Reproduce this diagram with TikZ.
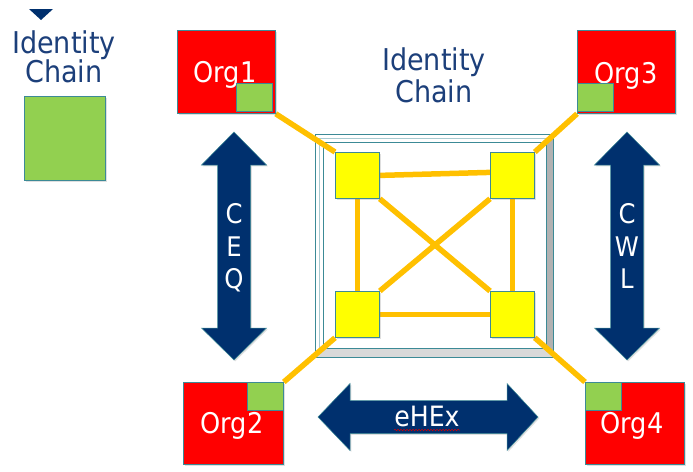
\documentclass[tikz,border=0pt]{standalone}
\usepackage{fontspec}
\setmainfont{DejaVu Sans Condensed}
\usetikzlibrary{shadows,decorations.pathmorphing}
\definecolor{navy}{HTML}{00306E}
\definecolor{inkblue}{HTML}{1C3F7A}
\definecolor{edge}{HTML}{3C8A96}
\definecolor{linkorange}{HTML}{FFC000}
\definecolor{chaingreen}{HTML}{92D050}
\definecolor{orgred}{HTML}{FF0000}
\definecolor{peeryellow}{HTML}{FFFF00}
\pgfdeclarelayer{bg}
\pgfsetlayers{bg,main}
\begin{document}
\begin{tikzpicture}[x=1pt,y=-1pt,
  softshadow/.style={drop shadow={shadow xshift=1.3pt,shadow yshift=-1.3pt,opacity=0.25}},
  boxbase/.style={draw=edge,line width=0.8pt,inner sep=0pt,anchor=north west},
  orgbox/.style={boxbase,fill=orgred,softshadow,minimum width=98pt,minimum height=83pt},
  idbox/.style={boxbase,fill=chaingreen,minimum width=36pt,minimum height=28pt},
  peerbox/.style={boxbase,fill=peeryellow,softshadow,minimum width=44pt,minimum height=46pt},
  orglabel/.style={text=white,font=\fontsize{28.5}{30}\selectfont,anchor=base,inner sep=0pt},
  titletext/.style={text=inkblue,font=\fontsize{30}{32}\selectfont,anchor=base,inner sep=0pt},
  arrowtext/.style={text=white,font=\fontsize{27}{29}\selectfont,anchor=base,inner sep=0pt},
  bigarrow/.style={fill=navy,draw=edge,line width=0.5pt,softshadow},
  link/.style={draw=linkorange,line width=5.5pt}
]
\useasboundingbox (0,0) rectangle (693,471);

% legend
\fill[navy] (29,9) -- (53,9) -- (41,20) -- cycle;
\node[titletext] (legid) at (64,53) {Identity};
\node[titletext] (legch) at (64,82) {Chain};
\node[boxbase,fill=chaingreen,softshadow,minimum width=81pt,minimum height=84pt] (legbox) at (24,96) {};

% title above the exchange
\node[titletext] (tid) at (434,70) {Identity};
\node[titletext] (tch) at (434,102) {Chain};

% peers inside the exchange
\node[peerbox] (y1) at (335,152) {};
\node[peerbox] (y2) at (490,152) {};
\node[peerbox] (y3) at (335,291) {};
\node[peerbox] (y4) at (490,291) {};

% organisations with their identity chain corner
\node[orgbox] (o1) at (177,30) {};
\node[orglabel] (t1) at (225,82) {Org1};
\node[idbox] (g1) at (236,83) {};

\node[orgbox] (o3) at (577,30) {};
\node[orglabel] (t3) at (626,83) {Org3};
\node[idbox] (g3) at (577,83) {};

\node[orgbox,minimum width=100pt,minimum height=82pt] (o2) at (183,382) {};
\node[orglabel] (t2) at (232,433) {Org2};
\node[idbox] (g2) at (247,382) {};

\node[orgbox,minimum width=99pt,minimum height=82pt] (o4) at (585,382) {};
\node[orglabel] (t4) at (632,433) {Org4};
\node[idbox] (g4) at (585,382) {};

% double arrows
\path[bigarrow] (234,132) -- (266.5,165) -- (250.5,165) -- (250.5,328) -- (266.5,328)
  -- (234,360) -- (201.5,328) -- (217.5,328) -- (217.5,165) -- (201.5,165) -- cycle;
\node[arrowtext] (ceqc) at (234,223) {C};
\node[arrowtext] (ceqe) at (234,256) {E};
\node[arrowtext] (ceqq) at (234,288) {Q};

\path[bigarrow] (627,132) -- (659.5,165) -- (643.5,165) -- (643.5,328) -- (659.5,328)
  -- (627,360) -- (594.5,328) -- (610.5,328) -- (610.5,165) -- (594.5,165) -- cycle;
\node[arrowtext] (cwlc) at (627,223) {C};
\node[arrowtext] (cwlw) at (627,256) {W};
\node[arrowtext] (cwll) at (627,288) {L};

\path[bigarrow] (318,417) -- (350,383.5) -- (350,400.5) -- (507,400.5) -- (507,383.5)
  -- (538,417) -- (507,450.5) -- (507,433.5) -- (350,433.5) -- (350,450.5) -- cycle;
\node[arrowtext,font=\fontsize{28}{30}\selectfont] (ehex) at (427,426) {eHEx};
\draw[red!85!black,line width=0.5pt,decorate,decoration={snake,amplitude=0.8pt,segment length=3pt}]
  (ehex.base west) ++(0,4) -- ++(66,0);

\begin{pgfonlayer}{bg}
  % bevelled frame of the exchange
  \fill[gray!30] (315,357) -- (553,357) -- (546,348) -- (323,348) -- cycle;
  \fill[gray!60] (553,134) -- (553,357) -- (546,348) -- (546,142) -- cycle;
  \draw[edge!45,line width=0.8pt] (319,353) -- (319,138) -- (549,138);
  \draw[edge,line width=0.8pt] (315,134) rectangle (553,357);
  \draw[edge,line width=0.8pt] (323,142) rectangle (546,348);
  % links
  \draw[link] (o1.south east) -- (y1.north west);
  \draw[link] (o3.south west) -- (y2.north east);
  \draw[link] (o2.north east) -- (y3.south west);
  \draw[link] (o4.north west) -- (y4.south east);
  \draw[link] (y1.east) -- ([yshift=3pt]y2.west);
  \draw[link] (y1.south) -- (y3.north);
  \draw[link] (y2.south) -- (y4.north);
  \draw[link] (y3.east) -- (y4.west);
  \draw[link] (y1.south east) -- (y4.north west);
  \draw[link] (y2.south west) -- (y3.north east);
\end{pgfonlayer}
\end{tikzpicture}
\end{document}
